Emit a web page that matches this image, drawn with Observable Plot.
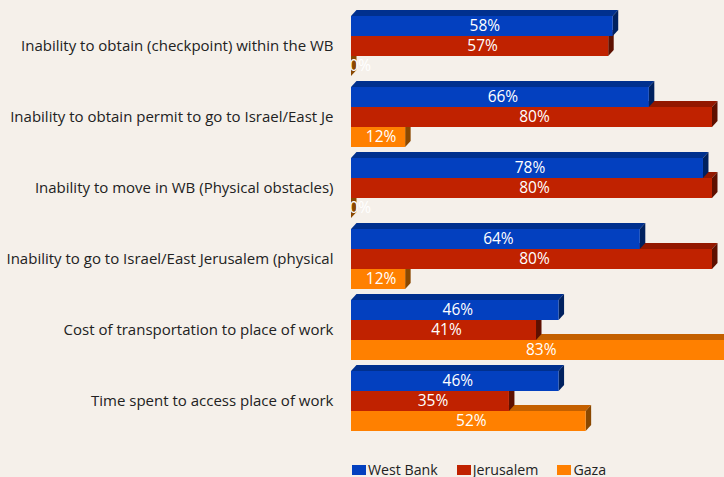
<!DOCTYPE html>
<html><head><meta charset="utf-8">
<script src="https://cdn.jsdelivr.net/npm/d3@7"></script>
<script src="https://cdn.jsdelivr.net/npm/@observablehq/plot@0.6"></script>
<style>
html,body{margin:0;padding:0;background:#f5f0ea;font-family:"Open Sans",sans-serif;overflow:hidden;}
#legend{display:flex;align-items:center;padding-left:352px;margin-top:15.5px;font-size:14.2px;line-height:18px;color:#222;height:18px;}
#legend .item{display:flex;align-items:center;margin-right:19px;}
#legend .sw{width:14px;height:10px;margin-right:2px;}
</style></head><body>
<div id="chart"></div>
<div id="legend"></div>
<script>
const categories = [
  "Inability to obtain (checkpoint) within the WB",
  "Inability to obtain permit to go to Israel/East Je",
  "Inability to move in WB (Physical obstacles)",
  "Inability to go to Israel/East Jerusalem (physical",
  "Cost of transportation to place of work",
  "Time spent to access place of work"
];
const seriesNames = ["West Bank", "Jerusalem", "Gaza"];
const westBank = [58, 66, 78, 64, 46, 46];
const jerusalem = [57, 80, 80, 80, 41, 35];
const gaza = [0, 12, 0, 12, 83, 52];

const frontColor = {"West Bank": "#0340bf", "Jerusalem": "#c02200", "Gaza": "#ff8000"};
const topColor = {"West Bank": "#00308e", "Jerusalem": "#931800", "Gaza": "#c46000"};
const sideColor = {"West Bank": "#00215f", "Jerusalem": "#5e1000", "Gaza": "#8a4800"};

const valuesBySeries = {"West Bank": westBank, "Jerusalem": jerusalem, "Gaza": gaza};
const rows = [];
categories.forEach((c, i) => seriesNames.forEach(s => rows.push({category: c, series: s, value: valuesBySeries[s][i]})));

const DX = 5.5, DY = 6;
const NS = "http://www.w3.org/2000/svg";

function bar3d(s) {
  return Plot.barX(rows.filter(d => d.series === s), {
    x: "value", y: "series", fy: "category", fill: frontColor[s],
    render(index, scales, values, dims, ctx, next) {
      const g = next(index, scales, values, dims, ctx);
      for (const r of Array.from(g.querySelectorAll("rect"))) {
        const x = +r.getAttribute("x"), y = +r.getAttribute("y");
        const w = +r.getAttribute("width"), h = +r.getAttribute("height");
        const top = document.createElementNS(NS, "polygon");
        top.setAttribute("points", `${x},${y} ${x + w},${y} ${x + w + DX},${y - DY} ${x + DX},${y - DY}`);
        top.setAttribute("fill", topColor[s]);
        const side = document.createElementNS(NS, "polygon");
        side.setAttribute("points", `${x + w},${y} ${x + w + DX},${y - DY} ${x + w + DX},${y + h - DY} ${x + w},${y + h}`);
        side.setAttribute("fill", sideColor[s]);
        r.parentNode.insertBefore(top, r);
        r.parentNode.insertBefore(side, r);
      }
      return g;
    }
  });
}

const chart = Plot.plot({
  width: 724,
  height: 445,
  marginLeft: 351,
  marginRight: 12,
  marginTop: 15,
  marginBottom: 13.5,
  style: {background: "transparent", fontFamily: "'Open Sans', sans-serif", color: "#222"},
  x: {domain: [0, 80], axis: null},
  y: {domain: seriesNames, padding: 0, axis: null},
  fy: {domain: categories, paddingInner: 0.158, paddingOuter: 0, axis: null, label: null},
  marks: [
    bar3d("Gaza"),
    bar3d("Jerusalem"),
    bar3d("West Bank"),
    Plot.text(rows.filter(d => d.value > 0), {x: d => d.value / 2, y: "series", fy: "category", text: d => d.value + "%", fill: "white", dx: 2.5, fontSize: 15.5, clip: "frame"}),
    Plot.text(rows.filter(d => d.value === 0), {x: "value", y: "series", fy: "category", text: d => d.value + "%", fill: "white", textAnchor: "start", dx: -2, fontSize: 15.5, clip: "frame"}),
    Plot.axisFy({anchor: "left", tickSize: 0, tickPadding: 18, label: null, fontSize: 15, fill: "#222"})
  ]
});
document.getElementById("chart").appendChild(chart);

const legend = document.getElementById("legend");
seriesNames.forEach(s => {
  const item = document.createElement("div");
  item.className = "item";
  const sw = document.createElement("span");
  sw.className = "sw";
  sw.style.background = frontColor[s];
  const t = document.createElement("span");
  t.textContent = s;
  item.appendChild(sw); item.appendChild(t);
  legend.appendChild(item);
});
</script>
</body></html>
